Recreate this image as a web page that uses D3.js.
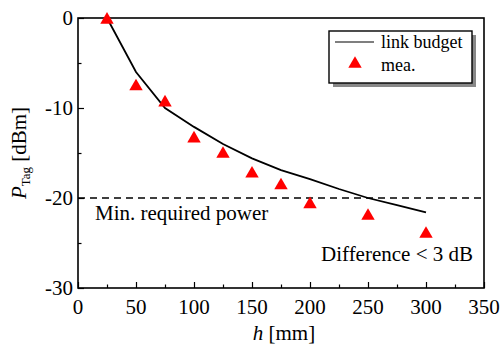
<!DOCTYPE html>
<html>
<head>
  <meta charset="utf-8">
  <script src="https://cdn.jsdelivr.net/npm/d3@7"></script>
  <style>
    body { margin: 0; background: #fff; }
    svg text { font-family: "Liberation Serif", "Times New Roman", Times, serif; }
  </style>
</head>
<body>
  <svg id="chart"></svg>
  <script>
    // link budget (line)
    const budgetH = [25, 50, 75, 100, 125, 150, 175, 200, 225, 250, 275, 300];
    const budgetP = [0, -6, -10, -12.1, -14, -15.6, -16.9, -17.9, -19, -20, -20.8, -21.6];
    // measurements (triangles)
    const meaH = [25, 50, 75, 100, 125, 150, 175, 200, 250, 300];
    const meaP = [-0.2, -7.6, -9.4, -13.4, -15.1, -17.3, -18.6, -20.7, -22.0, -24.0];
    const minPower = -20;
    const xTicks = [0, 50, 100, 150, 200, 250, 300, 350];
    const yTicks = [0, -10, -20, -30];

    const width = 503, height = 348;
    const margin = { top: 18, right: 19, bottom: 60, left: 78 };

    const svg = d3.select("#chart").attr("width", width).attr("height", height);

    const x = d3.scaleLinear().domain([0, 350]).range([margin.left, width - margin.right]);
    const y = d3.scaleLinear().domain([-30, 0]).range([height - margin.bottom, margin.top]);

    // inward ticks
    const xAxis = svg.append("g")
      .attr("transform", `translate(0,${y(-30)})`)
      .call(d3.axisBottom(x).tickValues(d3.range(0, 351, 25)).tickSize(-5).tickFormat(""));
    xAxis.selectAll(".tick line").attr("y2", d => d % 50 === 0 ? -6 : -3.5).attr("stroke-width", 1.2);
    xAxis.select(".domain").remove();

    const yAxis = svg.append("g")
      .attr("transform", `translate(${x(0)},0)`)
      .call(d3.axisLeft(y).tickValues(d3.range(-30, 1, 5)).tickSize(-5).tickFormat(""));
    yAxis.selectAll(".tick line").attr("x2", d => d % 10 === 0 ? 6 : 3.5).attr("stroke-width", 1.2);
    yAxis.select(".domain").remove();

    // tick labels
    svg.append("g").selectAll("text").data(xTicks).join("text")
      .attr("x", d => x(d)).attr("y", y(-30) + 26)
      .attr("text-anchor", "middle").attr("font-size", 21)
      .text(d => d);
    svg.append("g").selectAll("text").data(yTicks).join("text")
      .attr("x", x(0) - 5).attr("y", d => y(d) + 7)
      .attr("text-anchor", "end").attr("font-size", 21)
      .text(d => d === 0 ? "0" : "-" + Math.abs(d));

    // frame
    svg.append("rect")
      .attr("x", x(0)).attr("y", y(0))
      .attr("width", x(350) - x(0)).attr("height", y(-30) - y(0))
      .attr("fill", "none").attr("stroke", "#000").attr("stroke-width", 1.6);

    // min required power
    svg.append("line")
      .attr("x1", x(0)).attr("x2", x(350)).attr("y1", y(minPower)).attr("y2", y(minPower))
      .attr("stroke", "#000").attr("stroke-width", 1.6).attr("stroke-dasharray", "7,5");

    // link budget line
    const line = d3.line().x((d, i) => x(budgetH[i])).y(d => y(d));
    svg.append("path").datum(budgetP)
      .attr("d", line).attr("fill", "none").attr("stroke", "#000").attr("stroke-width", 1.8);

    // measured triangles
    const tri = d3.symbol().type(d3.symbolTriangle).size(78);
    svg.append("g").selectAll("path").data(meaP).join("path")
      .attr("d", tri)
      .attr("transform", (d, i) => `translate(${x(meaH[i])},${y(d)})`)
      .attr("fill", "#ff0000");

    // annotations
    svg.append("text").attr("x", 95).attr("y", 220).attr("font-size", 21).text("Min. required power");
    svg.append("text").attr("x", 473).attr("y", 261).attr("text-anchor", "end").attr("font-size", 21)
      .text("Difference < 3 dB");

    // legend
    const lg = svg.append("g");
    lg.append("rect").attr("x", 333).attr("y", 35).attr("width", 143).attr("height", 52).attr("fill", "#888");
    lg.append("rect").attr("x", 329).attr("y", 31).attr("width", 143).attr("height", 52)
      .attr("fill", "#fff").attr("stroke", "#000").attr("stroke-width", 1.4);
    lg.append("line").attr("x1", 335).attr("x2", 374).attr("y1", 42).attr("y2", 42)
      .attr("stroke", "#000").attr("stroke-width", 1.2);
    lg.append("text").attr("x", 381).attr("y", 48).attr("font-size", 18).text("link budget");
    lg.append("path").attr("d", tri).attr("transform", "translate(355,64)").attr("fill", "#ff0000");
    lg.append("text").attr("x", 381).attr("y", 71).attr("font-size", 18).text("mea.");

    // axis titles
    const xt = svg.append("text").attr("x", 284).attr("y", 340).attr("text-anchor", "middle").attr("font-size", 21);
    xt.append("tspan").attr("font-style", "italic").text("h");
    xt.append("tspan").text(" [mm]");

    const yt = svg.append("text")
      .attr("transform", `translate(26,${153}) rotate(-90)`)
      .attr("text-anchor", "middle").attr("font-size", 21);
    yt.append("tspan").attr("font-style", "italic").text("P");
    yt.append("tspan").attr("font-size", 13).attr("dy", 4).text("Tag");
    yt.append("tspan").attr("dy", -4).text(" [dBm]");
  </script>
</body>
</html>
